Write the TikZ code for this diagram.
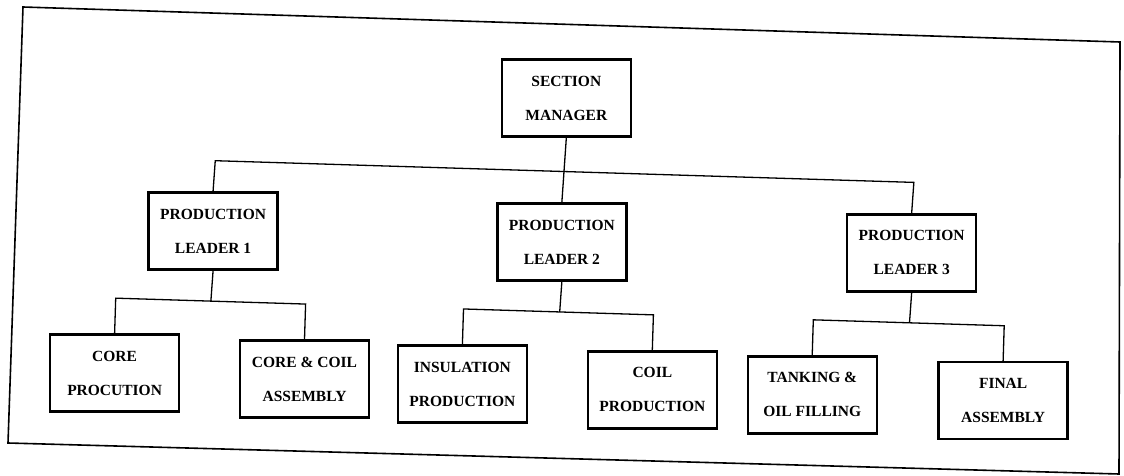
\documentclass[tikz,border=0pt]{standalone}
\usepackage{fontspec}
\setmainfont{Liberation Serif}
\begin{document}
\begin{tikzpicture}[x=1pt,y=-1pt,
  box/.style={draw=black,line width=2.4pt,fill=white,minimum width=129pt,minimum height=77pt,
    align=center,inner sep=0pt,font=\bfseries\fontsize{15.5}{34}\selectfont},
  conn/.style={draw=black,line width=1.3pt},
  frame/.style={draw=black,line width=1.6pt}]
\useasboundingbox[fill=white] (0,0) rectangle (1124,476);
\coordinate (ftl) at (23,7);
\coordinate (ftr) at (1120,42);
\coordinate (fbr) at (1119,474);
\coordinate (fbl) at (8,443);
\draw[frame] (ftl) -- (ftr) -- (fbr) -- (fbl) -- cycle;
\begin{scope}[rotate around={-1.78:(562,238)}]
  % top level
  \node[box] (sm) at (562,98) {SECTION\\MANAGER};
  % leaders
  \node[box] (pl1) at (213,242) {PRODUCTION\\LEADER 1};
  \node[box] (pl2) at (562,242) {PRODUCTION\\LEADER 2};
  \node[box] (pl3) at (912,242) {PRODUCTION\\LEADER 3};
  % sections
  \node[box] (cp)  at (119,387) {CORE\\PROCUTION};
  \node[box] (cca) at (309,387) {CORE \& COIL\\ASSEMBLY};
  \node[box] (ip)  at (467,387) {INSULATION\\PRODUCTION};
  \node[box] (clp) at (657,387) {COIL\\PRODUCTION};
  \node[box] (tof) at (817,387) {TANKING \&\\OIL FILLING};
  \node[box] (fa)  at (1008,387) {FINAL\\ASSEMBLY};
  % junctions
  \coordinate (b1) at (213,171.5);
  \coordinate (b3) at (912,171.5);
  \coordinate (j1) at (213,312);
  \coordinate (j2) at (562,312);
  \coordinate (j3) at (912,312);
  % connectors
  \draw[conn] (sm.south) -- (pl2.north);
  \draw[conn] (pl1.north) -- (b1) -- (b3) -- (pl3.north);
  \draw[conn] (pl1.south) -- (j1);
  \draw[conn] (cp.north) |- (j1) -| (cca.north);
  \draw[conn] (pl2.south) -- (j2);
  \draw[conn] (ip.north) |- (j2) -| (clp.north);
  \draw[conn] (pl3.south) -- (j3);
  \draw[conn] (tof.north) |- (j3) -| (fa.north);
\end{scope}
\end{tikzpicture}
\end{document}
